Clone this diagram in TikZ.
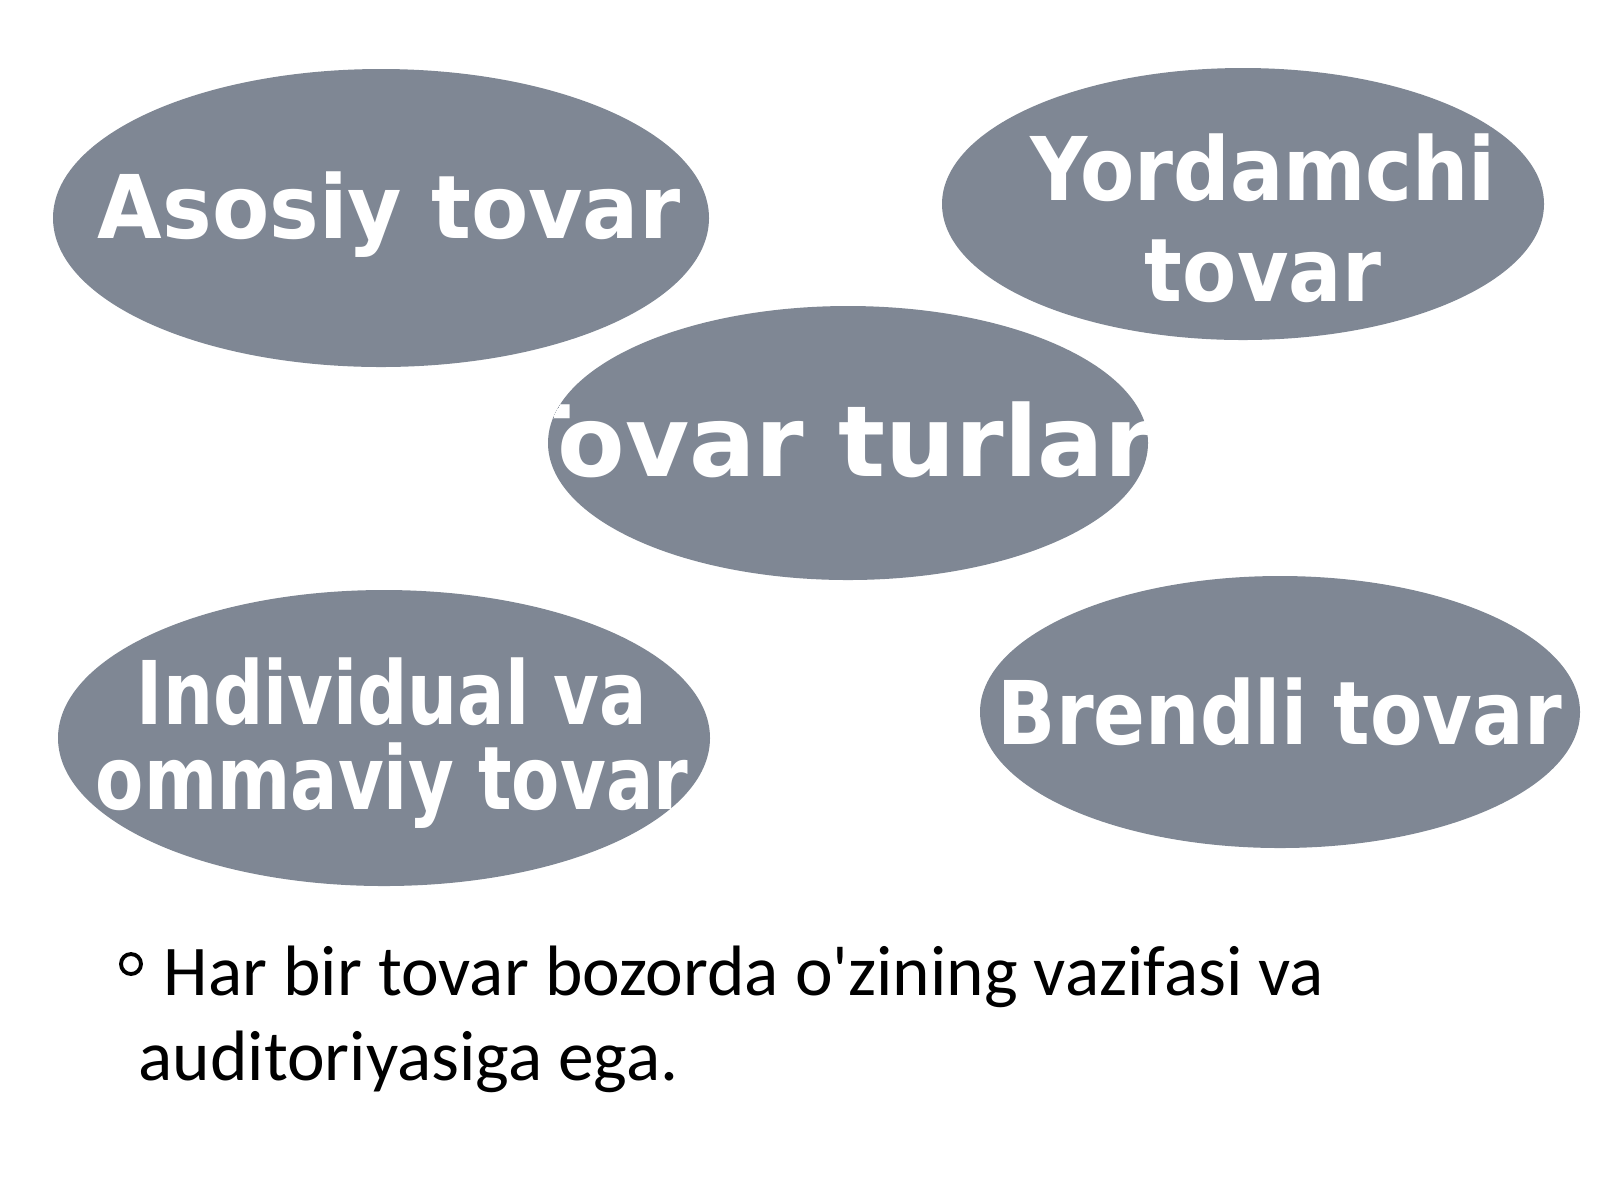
\documentclass[tikz,border=0pt]{standalone}
\usepackage{fontspec}
\usetikzlibrary{shapes.geometric}
\newfontfamily\blobfont{DejaVu Sans}[FakeStretch=0.95]
\newfontfamily\narrowblobfont{DejaVu Sans}[FakeStretch=0.80]
\newfontfamily\brandfont{DejaVu Sans}[FakeStretch=0.87]
\newfontfamily\helperfont{DejaVu Sans}[FakeStretch=0.90]
\newfontfamily\kindsfont{DejaVu Sans}[FakeStretch=1.00]
\newfontfamily\notefont{Carlito}
\definecolor{blobgray}{HTML}{7F8794}

\begin{document}
\begin{tikzpicture}
\tikzstyle{blobStyle}=[shape = ellipse, fill = blobgray, draw = none, inner sep = 0pt]
\tikzstyle{blobText}=[text = white, align = center, inner sep = 0pt, font = \blobfont\bfseries\fontsize{25}{27.9}\selectfont]
\tikzstyle{noteText}=[anchor = base west, inner sep = 0pt, font = \notefont\fontsize{20.3}{24}\selectfont]
\useasboundingbox (0,0) rectangle (16,-12);
\node[blobStyle, minimum width = 6.56cm, minimum height = 2.98cm,
  path picture = {\node[blobText] (mainText) at ([xshift=0.08cm, yshift=0.03cm]path picture bounding box.center) {Asosiy tovar};}] (main) at (3.81,-2.18) {};
\node[blobStyle, minimum width = 6.02cm, minimum height = 2.72cm,
  path picture = {\node[blobText, font = \helperfont\bfseries\fontsize{25}{28.8}\selectfont] (helperText) at ([xshift=0.20cm, yshift=-0.14cm]path picture bounding box.center) {Yordamchi\\tovar};}] (helper) at (12.43,-2.04) {};
\node[blobStyle, minimum width = 6.00cm, minimum height = 2.74cm,
  path picture = {\node[blobText, font = \kindsfont\bfseries\fontsize{28}{30}\selectfont] (kindsText) at ([xshift=-0.03cm, yshift=0.03cm]path picture bounding box.center) {Tovar turlari};}] (kinds) at (8.48,-4.43) {};
\node[blobStyle, minimum width = 6.52cm, minimum height = 2.96cm,
  path picture = {\node[blobText, font = \narrowblobfont\bfseries\fontsize{25}{24.2}\selectfont] (massText) at ([xshift=0.08cm, yshift=-0.05cm]path picture bounding box.center) {Individual va\\ommaviy tovar};}] (mass) at (3.84,-7.38) {};
\node[blobStyle, minimum width = 6.00cm, minimum height = 2.72cm,
  path picture = {\node[blobText, font = \brandfont\bfseries\fontsize{25}{27.9}\selectfont] (brandText) at ([yshift=0.0cm]path picture bounding box.center) {Brendli tovar};}] (brand) at (12.80,-7.12) {};
% izoh
\node[circle, draw, line width = 1.1pt, minimum size = 0.20cm, inner sep = 0pt] (dot) at (1.31,-9.64) {};
\node[noteText] (noteOne) at (1.63,-9.95) {Har bir tovar bozorda o'zining vazifasi va};
\node[noteText] (noteTwo) at (1.38,-10.80) {auditoriyasiga ega.};
\end{tikzpicture}
\end{document}
